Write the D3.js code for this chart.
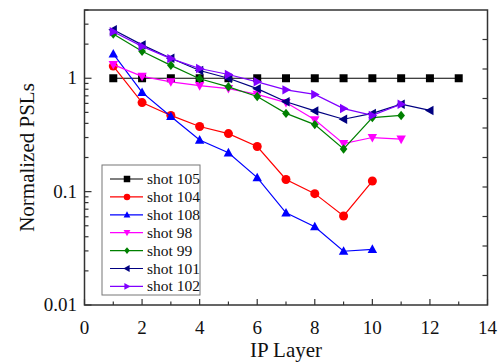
<!DOCTYPE html>
<html><head><meta charset="utf-8">
<script src="https://cdn.jsdelivr.net/npm/d3@7"></script>
<style>body{margin:0;background:#fff}svg{display:block}text{font-family:"Liberation Serif","Times New Roman",serif}</style>
</head><body><svg id="c" width="503" height="364"></svg>
<script>
const seriesNames = ["shot 105","shot 104","shot 108","shot 98","shot 99","shot 101","shot 102"];
const shot105 = [1,1,1,1,1,1,1,1,1,1,1,1,1];
const shot104 = [1.28,0.61,0.47,0.375,0.325,0.25,0.128,0.096,0.061,0.124];
const shot108 = [1.64,0.75,0.46,0.285,0.22,0.133,0.065,0.049,0.0298,0.031];
const shot98  = [1.32,1.04,0.93,0.86,0.81,0.72,0.61,0.43,0.265,0.30,0.29];
const shot99  = [2.46,1.73,1.30,0.99,0.84,0.69,0.49,0.39,0.238,0.45,0.47];
const shot101 = [2.68,1.97,1.50,1.17,1.00,0.81,0.62,0.515,0.435,0.49,0.59,0.52];
const shot102 = [2.57,1.91,1.49,1.22,1.08,0.93,0.79,0.72,0.54,0.47,0.59];
const seriesValues = [shot105,shot104,shot108,shot98,shot99,shot101,shot102];
const colors = ["#000000","#ff0000","#0000ff","#ff00ff","#008000","#000080","#8000ff"];
const symbols = ["square","circle","triangleUp","triangleDown","diamond","triangleLeft","triangleRight"];
const xTicks = [0,2,4,6,8,10,12,14];
const yTickLabels = ["0.01","0.1","1"];

const svg = d3.select("#c");
const L=84.5, R=487.5, T=10, B=305;
const x = d3.scaleLinear().domain([0,14]).range([L,R]);
const y = d3.scaleLog().domain([0.01,4]).range([B,T]);

function markerPath(type, s){
  const h=s/2;
  switch(type){
    case "square": return `M${-h},${-h}H${h}V${h}H${-h}Z`;
    case "circle": return d3.symbol(d3.symbolCircle, Math.PI*h*h)();
    case "triangleUp": return `M0,${-h*1.1}L${h*1.05},${h*0.8}L${-h*1.05},${h*0.8}Z`;
    case "triangleDown": return `M0,${h*1.1}L${h*1.05},${-h*0.8}L${-h*1.05},${-h*0.8}Z`;
    case "triangleLeft": return `M${-h*1.1},0L${h*0.8},${-h*1.05}L${h*0.8},${h*1.05}Z`;
    case "triangleRight": return `M${h*1.1},0L${-h*0.8},${-h*1.05}L${-h*0.8},${h*1.05}Z`;
    case "diamond": return `M0,${-h*1.05}L${h*0.85},0L0,${h*1.05}L${-h*0.85},0Z`;
  }
}
const msize=[8,9,9,9,9,9,9];

// series
seriesValues.forEach((vals,i)=>{
  const pts = vals.map((v,j)=>[j+1,v]);
  svg.append("path").datum(pts)
    .attr("fill","none").attr("stroke",colors[i]).attr("stroke-width",1.2)
    .attr("d", d3.line().x(d=>x(d[0])).y(d=>y(d[1])));
  svg.append("g").selectAll("path").data(pts).join("path")
    .attr("transform",d=>`translate(${x(d[0])},${y(d[1])})`)
    .attr("d",markerPath(symbols[i],msize[i])).attr("fill",colors[i]);
});

// frame
svg.append("rect").attr("x",L).attr("y",T).attr("width",R-L).attr("height",B-T)
  .attr("fill","none").attr("stroke","#333").attr("stroke-width",1.5);

// bottom axis ticks (inward)
const gx = svg.append("g");
d3.range(0,15).forEach(v=>{
  const major = v%2===0;
  gx.append("line").attr("x1",x(v)).attr("x2",x(v)).attr("y1",B).attr("y2",B-(major?6:3.5))
    .attr("stroke","#333").attr("stroke-width",1.2);
});
gx.selectAll("text").data(xTicks).join("text")
  .attr("x",d=>x(d)).attr("y",334).attr("text-anchor","middle")
  .attr("font-size",19).attr("fill","#111").text(d=>d);

// left axis ticks
const gy = svg.append("g");
[0.01,0.1,1].forEach(dec=>{
  for(let k=1;k<=9;k++){
    const v=dec*k; if(v>4) break;
    gy.append("line").attr("x1",L).attr("x2",L+(k===1?7:4)).attr("y1",y(v)).attr("y2",y(v))
      .attr("stroke","#333").attr("stroke-width",1.2);
  }
});
gy.selectAll("text").data(yTickLabels).join("text")
  .attr("x",77).attr("y",d=>y(+d)+6).attr("text-anchor","end")
  .attr("font-size",19).attr("fill","#111").text(d=>d);

// right axis linear ticks
const yr = d3.scaleLinear().domain([0,10]).range([B,T]);
d3.range(1,10).forEach(v=>{
  svg.append("line").attr("x1",R).attr("x2",R-5).attr("y1",yr(v)).attr("y2",yr(v))
    .attr("stroke","#333").attr("stroke-width",1.2);
});

// axis titles
svg.append("text").attr("x",(L+R)/2).attr("y",357).attr("text-anchor","middle")
  .attr("font-size",21).attr("fill","#111").text("IP Layer");
svg.append("text").attr("transform",`translate(34,${(T+B)/2}) rotate(-90)`)
  .attr("text-anchor","middle").attr("font-size",21).attr("fill","#111").text("Normalized PSLs");

// legend
const lg = svg.append("g");
lg.append("rect").attr("x",102).attr("y",165).attr("width",98).attr("height",130)
  .attr("fill","#fff").attr("stroke","#777").attr("stroke-width",1);
seriesNames.forEach((n,i)=>{
  const yy = 179 + i*17.9;
  lg.append("line").attr("x1",110).attr("x2",143).attr("y1",yy).attr("y2",yy)
    .attr("stroke",colors[i]).attr("stroke-width",1.2);
  lg.append("path").attr("transform",`translate(127,${yy})`).attr("d",markerPath(symbols[i],6.5)).attr("fill",colors[i]);
  lg.append("text").attr("x",147).attr("y",yy+5).attr("font-size",15.5).attr("fill","#111").text(n);
});
</script></body></html>
